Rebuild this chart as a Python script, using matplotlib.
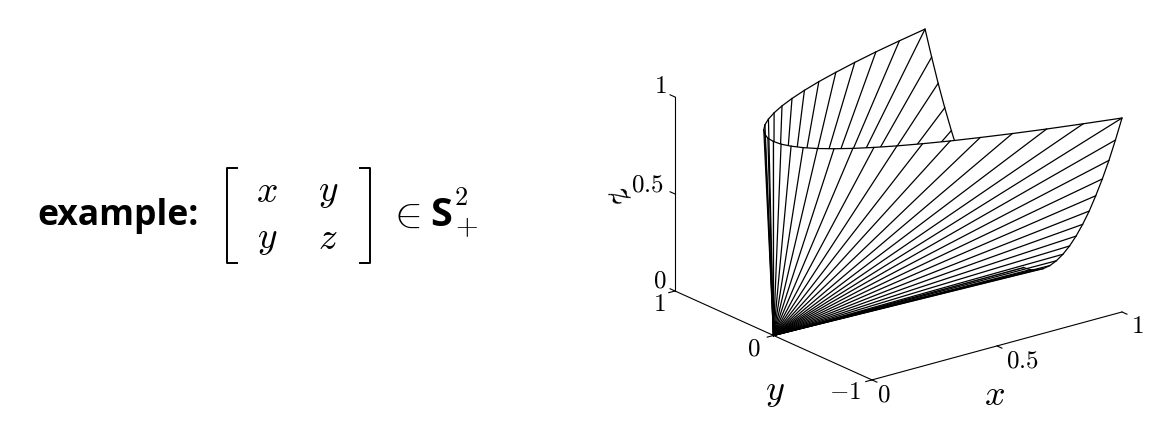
import matplotlib
matplotlib.use("Agg")
import matplotlib.pyplot as plt
from matplotlib.lines import Line2D
from mpl_toolkits.mplot3d.art3d import Poly3DCollection

plt.rcParams['mathtext.fontset'] = 'cm'

W, H = 1158, 433

# where the rulings of the cone hit the rim
rim_y = [0.0, 0.067, 0.133, 0.2, 0.267, 0.333, 0.4, 0.467, 0.533, 0.6, 0.667, 0.733, 0.8, 0.867, 0.933, 1.0]
rim_s = [0.0, 0.004, 0.018, 0.04, 0.071, 0.111, 0.16, 0.218, 0.284, 0.36, 0.444, 0.538, 0.64, 0.751, 0.871, 1.0]

x_ticks = [0, 0.5, 1]
y_ticks = [-1, 0, 1]
z_ticks = [0, 0.5, 1]


def px(x, y):
    return x / W, 1 - y / H


def rim(sign):
    # from the x=1 side up to the corner, then along z=1
    xs = [1.0] * len(rim_y) + rim_s[::-1][1:]
    ys = [sign * v for v in rim_y] + [sign * v for v in rim_y[::-1][1:]]
    zs = rim_s + [1.0] * (len(rim_y) - 1)
    return xs, ys, zs


fig = plt.figure(figsize=(W / 100, H / 100), dpi=100)
size = 481.8
ax = fig.add_axes([651.1 / W, -18.9 / H, size / W, size / H], projection='3d')
ax.set_proj_type('ortho')
ax.view_init(elev=20.5, azim=-127.8)
ax.set_box_aspect((316.5, 321.4, 207.1))
ax.set_xlim(0, 1)
ax.set_ylim(-1, 1)
ax.set_zlim(0, 1)
ax.set_axis_off()
ax.computed_zorder = False

# axes lines and ticks
ax.plot([0, 0], [1, 1], [0, 1], c='k', lw=0.8, zorder=1)
ax.plot([0, 0], [1, -1], [0, 0], c='k', lw=0.8, zorder=1)
ax.plot([0, 1], [-1, -1], [0, 0], c='k', lw=0.8, zorder=1)
for t in z_ticks:
    ax.plot([0, 0], [1, 1.05], [t, t], c='k', lw=0.8, zorder=1)
for t in y_ticks:
    ax.plot([0, -0.025], [t, t], [0, 0], c='k', lw=0.8, zorder=1)
for t in x_ticks:
    ax.plot([t, t], [-1, -1.05], [0, 0], c='k', lw=0.8, zorder=1)

# back half first, the front half then covers it
for sign, zo in [(1, 2), (-1, 4)]:
    xs, ys, zs = rim(sign)
    verts = [(0, 0, 0)] + list(zip(xs, ys, zs))
    ax.add_collection3d(Poly3DCollection([verts], facecolors='white', edgecolors='none', zorder=zo))
    for a, b, c in zip(xs, ys, zs):
        ax.plot([0, a], [0, b], [0, c], c='k', lw=0.9, zorder=zo + 1)
    ax.plot(xs, ys, zs, c='k', lw=0.9, zorder=zo + 1)

# tick labels and axis labels
tick_fs = 18
labels = [
    ("$1$", 660, 86), ("$0.5$", 647, 184), ("$0$", 660, 281),
    ("$1$", 659, 304), ("$0$", 754, 349), ("$-1$", 845, 392),
    ("$0$", 884, 394), ("$0.5$", 1022, 361), ("$1$", 1137, 326),
]
for s, lx, ly in labels:
    fig.text(*px(lx, ly), s, fontsize=tick_fs, ha='center', va='center')
fig.text(*px(775, 392), "$y$", fontsize=26, ha='center', va='center')
fig.text(*px(995, 395), "$x$", fontsize=26, ha='center', va='center')
fig.text(*px(619, 194), "$z$", fontsize=27, ha='center', va='center', rotation=-55)

# left hand formula
fig.text(*px(37, 225), "example:", fontsize=25.6, fontweight='bold', family='Open Sans', ha='left', va='baseline')
for s, lx, ly in [("$x$", 267, 192), ("$y$", 328, 192), ("$y$", 267, 239), ("$z$", 328, 239)]:
    fig.text(*px(lx, ly), s, fontsize=27, ha='center', va='center')
for x0, x1 in [(237, 227), (360, 370)]:
    xs = [x0, x1, x1, x0]
    ys = [168, 168, 263, 263]
    fig.add_artist(Line2D([v / W for v in xs], [1 - v / H for v in ys], c='k', lw=1.4, transform=fig.transFigure))
fig.text(*px(404, 215), r"$\in$", fontsize=30, ha='center', va='center')
fig.text(*px(441, 226), "S", fontsize=28.5, fontweight='bold', family='Open Sans', ha='center', va='baseline')
fig.text(*px(461, 198), "$2$", fontsize=19, ha='center', va='center')
fig.text(*px(466, 227), "$+$", fontsize=21, ha='center', va='center')

fig.savefig('out.png', dpi=100)
